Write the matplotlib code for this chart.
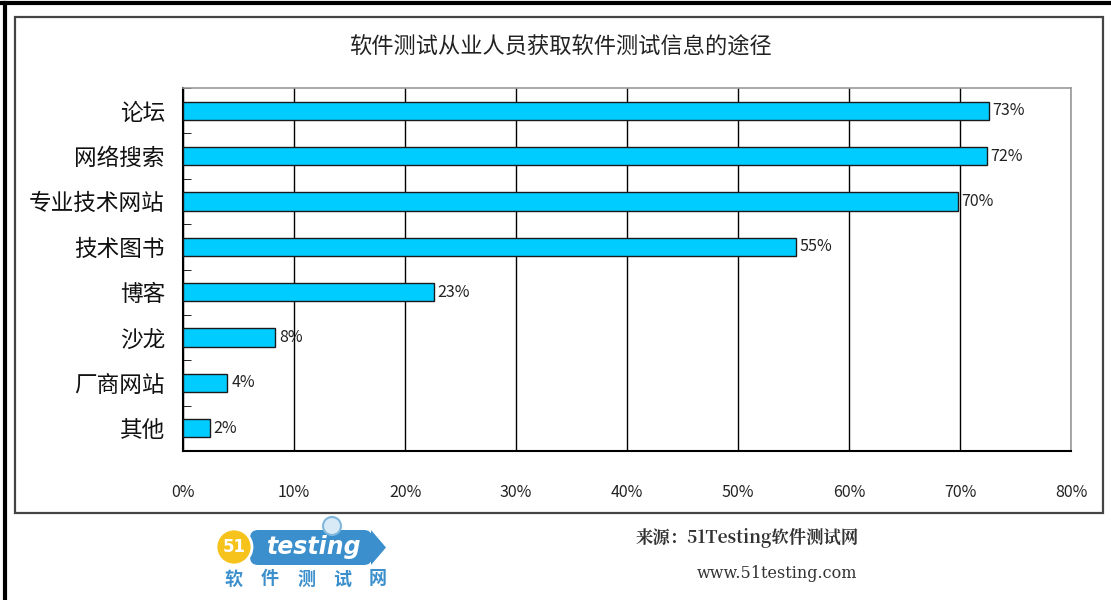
import matplotlib
matplotlib.use("Agg")
import matplotlib.pyplot as plt
from matplotlib.patches import Rectangle, Circle, FancyBboxPatch, Polygon
from matplotlib.lines import Line2D
from matplotlib.transforms import IdentityTransform
import numpy as np

plt.rcParams['font.family'] = ['Noto Sans CJK SC', 'DejaVu Sans']

title = "软件测试从业人员获取软件测试信息的途径"
categories = ["论坛", "网络搜索", "专业技术网站", "技术图书", "博客", "沙龙", "厂商网站", "其他"]
values = [72.6, 72.4, 69.8, 55.2, 22.6, 8.3, 4.0, 2.4]
value_labels = ["73%", "72%", "70%", "55%", "23%", "8%", "4%", "2%"]
xticks = [0, 10, 20, 30, 40, 50, 60, 70, 80]
xtick_labels = ["0%", "10%", "20%", "30%", "40%", "50%", "60%", "70%", "80%"]
source_text = "来源：51Testing软件测试网"
url_text = "www.51testing.com"
logo_text = ["软", "件", "测", "试", "网"]

W, H = 1111, 600
fig = plt.figure(figsize=(W / 100, H / 100), dpi=100)
fig.patch.set_facecolor("white")
PX = IdentityTransform()

def fx(px):
    return px / W

def fy(py):
    return 1 - py / H

def py_(p):
    return H - p

# outer frame lines
fig.add_artist(Line2D([0, 1], [fy(3), fy(3)], transform=fig.transFigure, color="black", lw=3))
fig.add_artist(Line2D([fx(5), fx(5)], [0, fy(3)], transform=fig.transFigure, color="black", lw=3))
# inner chart frame
fig.add_artist(Rectangle((fx(15), fy(513)), fx(1103) - fx(15), fy(17) - fy(513),
                         transform=fig.transFigure, fill=False, edgecolor="#444444", lw=1.6))

# axes
left, top, right, bottom = 183, 88, 1071, 451
ax = fig.add_axes([fx(left), fy(bottom), fx(right) - fx(left), fy(top) - fy(bottom)])
n = len(categories)
y = np.arange(n)
ax.barh(y, values, height=0.4, color="#00CCFF", edgecolor="#1a1a1a", lw=1.0, zorder=3)
ax.set_xlim(0, 80)
ax.set_ylim(n - 0.5, -0.5)
ax.set_xticks(xticks)
ax.set_xticklabels(xtick_labels, fontsize=11.5, color="#222222")
ax.tick_params(axis="x", length=0, pad=24)
ax.set_yticks(y)
ax.set_yticklabels(categories, fontsize=16.3, color="#111111")
ax.tick_params(axis="y", which="major", length=0, pad=13)
ax.set_yticks(np.arange(n + 1) - 0.5, minor=True)
ax.tick_params(axis="y", which="minor", length=6, direction="in", color="black")
ax.grid(axis="x", color="black", lw=1.0, zorder=1)
for s in ["left", "bottom"]:
    ax.spines[s].set_color("black")
    ax.spines[s].set_linewidth(1.5)
for s in ["top", "right"]:
    ax.spines[s].set_color("#999999")
    ax.spines[s].set_linewidth(1.2)
for yi, v, lab in zip(y, values, value_labels):
    ax.text(v + 0.35, yi, lab, va="center", ha="left", fontsize=11.5, color="#222222")

fig.text(fx(560), fy(47), title, ha="center", va="center", fontsize=16, color="#222222")

# footer
fig.text(fx(636), fy(538), source_text, ha="left", va="center", fontsize=12.5,
         fontweight="bold", color="#333333", family=["Noto Serif CJK SC", "Noto Sans CJK SC", "DejaVu Serif"])
fig.text(fx(697), fy(574), url_text, ha="left", va="center", fontsize=11.5,
         color="#333333", family=["DejaVu Serif"])

# logo
blue = "#3A8FCC"
fig.add_artist(FancyBboxPatch((250, py_(565)), 122, 35,
                              boxstyle="round,pad=0,rounding_size=8", transform=PX,
                              facecolor=blue, edgecolor="none"))
fig.add_artist(Polygon([(371, py_(530)), (386, py_(547.5)), (371, py_(565))],
                       closed=True, transform=PX, facecolor=blue, edgecolor="none"))
fig.add_artist(Circle((234, py_(547)), 18, transform=PX,
                      facecolor="#F6C21C", edgecolor="white", lw=2))
fig.text(fx(234), fy(547), "51", ha="center", va="center", fontsize=12, fontweight="bold",
         color="white", family=["DejaVu Sans"])
fig.text(fx(314), fy(547), "testing", ha="center", va="center", fontsize=17, fontweight="bold",
         style="italic", color="white", family=["DejaVu Sans"])
fig.add_artist(Circle((332, py_(526)), 9, transform=PX,
                      facecolor="#D8EAF6", edgecolor="#7FB7DD", lw=1.5))
for i, ch in enumerate(logo_text):
    fig.text(fx(234 + i * 36), fy(579), ch, ha="center", va="center", fontsize=13,
             fontweight="bold", color=blue)

fig.savefig("out.png", dpi=100)
